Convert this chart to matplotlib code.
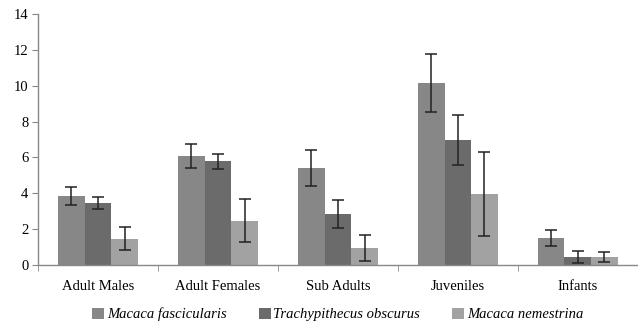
import matplotlib.pyplot as plt
import numpy as np

categories = ['Adult Males', 'Adult Females', 'Sub Adults', 'Juveniles', 'Infants']
species = ['Macaca fascicularis', 'Trachypithecus obscurus', 'Macaca nemestrina']

# means and error (+/-)
fascicularis = [3.85, 6.08, 5.41, 10.15, 1.51]
fascicularis_err = [0.48, 0.67, 1.0, 1.6, 0.44]
obscurus = [3.46, 5.80, 2.84, 6.97, 0.45]
obscurus_err = [0.35, 0.42, 0.8, 1.38, 0.35]
nemestrina = [1.47, 2.47, 0.95, 3.96, 0.45]
nemestrina_err = [0.65, 1.19, 0.72, 2.34, 0.3]

colors = ['#878787', '#6b6b6b', '#a2a2a2']

plt.rcParams['font.family'] = ['Liberation Serif', 'DejaVu Serif']

fig = plt.figure(figsize=(6.38, 3.21), dpi=100)
ax = fig.add_axes([0.0596, 0.1745, 0.94, 0.7815])

x = np.arange(len(categories))
w = 0.222
series = [(fascicularis, fascicularis_err), (obscurus, obscurus_err), (nemestrina, nemestrina_err)]
for i, (vals, errs) in enumerate(series):
    ax.bar(x + (i - 1) * w, vals, w, color=colors[i], label=species[i],
           yerr=errs, capsize=4,
           error_kw=dict(ecolor='#222222', elinewidth=1.1, capthick=1.1))

ax.set_xlim(-0.5, 4.5)
ax.set_ylim(0, 14)
ax.set_yticks(range(0, 15, 2))
ax.set_xticks(x)
ax.set_xticklabels(categories, fontsize=10.5)
ax.set_xticks(np.arange(-0.5, 4.6, 1), minor=True)
ax.tick_params(axis='x', which='major', length=0, pad=11)
ax.tick_params(axis='x', which='minor', length=4, color='#888888', direction='out')
ax.tick_params(axis='y', length=4, color='#888888', labelsize=10.5, pad=3)

for s in ['top', 'right']:
    ax.spines[s].set_visible(False)
for s in ['left', 'bottom']:
    ax.spines[s].set_color('#888888')
    ax.spines[s].set_linewidth(1.0)

leg = ax.legend(loc='upper center', bbox_to_anchor=(0.5, -0.14), ncol=3, frameon=False,
                handlelength=0.8, handleheight=0.8, handletextpad=0.2, columnspacing=2.2,
                borderpad=0, prop={'style': 'italic', 'size': 10.5})

fig.savefig('out.png', dpi=100)
